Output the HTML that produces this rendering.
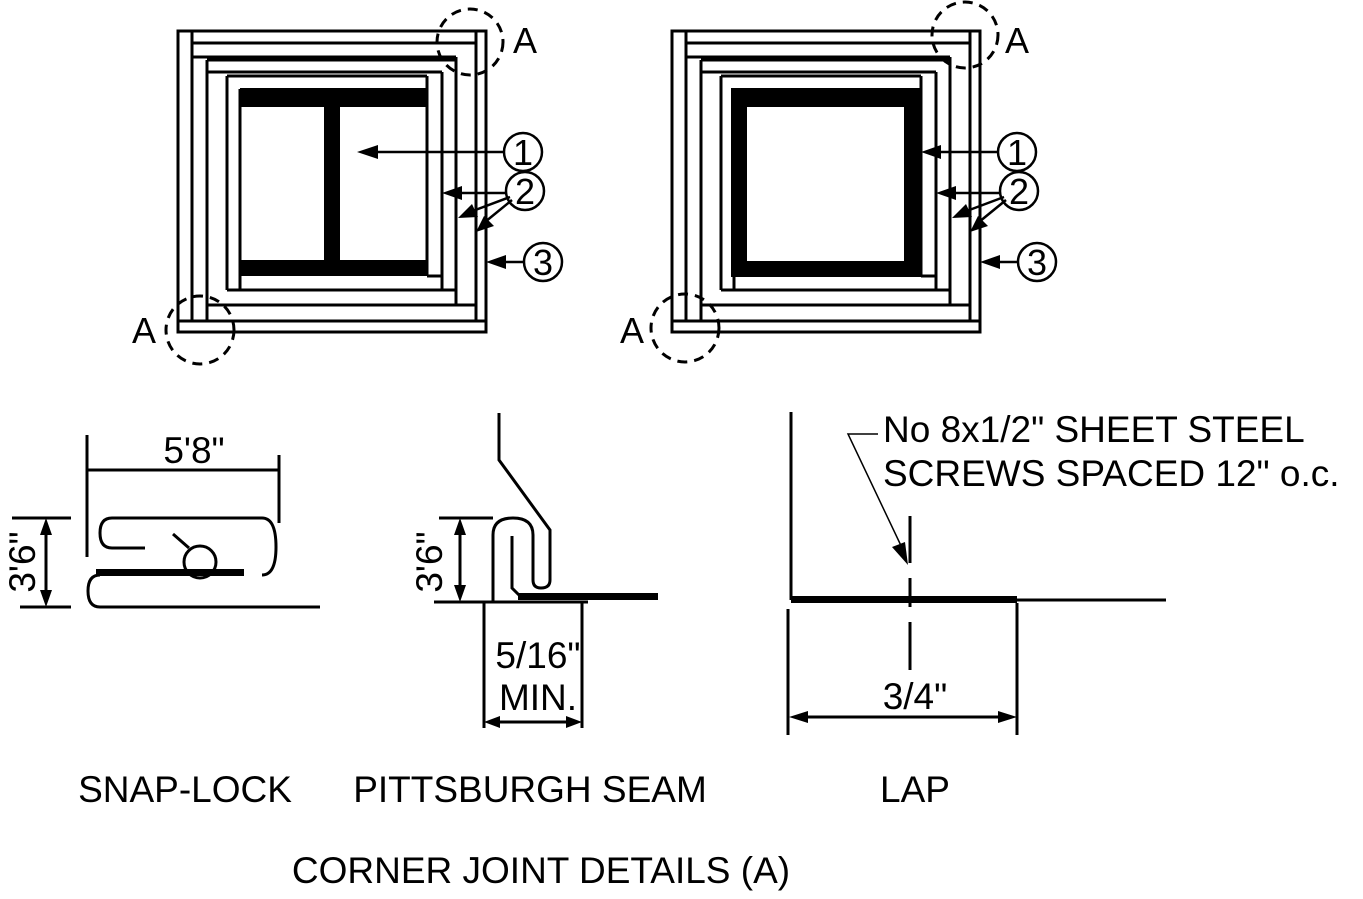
<!DOCTYPE html>
<html><head><meta charset="utf-8"><style>
html,body{margin:0;padding:0;background:#fff}
svg{display:block}
text{font-family:"Liberation Sans",Arial,sans-serif;fill:#000}
</style></head><body>
<svg width="1363" height="899" viewBox="0 0 1363 899" xmlns="http://www.w3.org/2000/svg">
<defs>
<g id="frame" fill="none" stroke="#000" stroke-width="3">
<rect x="178" y="31" width="308" height="301"/>
<path d="M192 31V321M178 321H486M476 31V321M192 43H476M192 57H456M456 57V305M207 305H476M207 60V321M207 60H456M207 72H442M442 72V290M227 290H456M227 76V290M227 76H427M427 76V276M427 276H442M240 89V290"/>
</g>
</defs>

<use href="#frame"/>
<rect x="240" y="88" width="187" height="19" fill="#000"/>
<rect x="240" y="260" width="187" height="16" fill="#000"/>
<rect x="324" y="107" width="16" height="153" fill="#000"/>
<g stroke="#000" stroke-width="2.5" fill="none">
<circle cx="523" cy="152" r="19"/>
<circle cx="525" cy="191" r="19"/>
<circle cx="543" cy="262" r="19"/>
<path d="M504 152H375M506 193H460M510 197L470 212M512 200L485 222M524 262H500"/>
</g>
<g fill="#000">
<path d="M357 152L378 145V159Z"/>
<path d="M442 193L462 186V200Z"/>
<path d="M458 218L472 204L478 217Z"/>
<path d="M476 232L484 216L494 226Z"/>
<path d="M486 262L506 255V269Z"/>
</g>
<g font-size="36" text-anchor="middle">
<text x="523" y="165">1</text>
<text x="525" y="204">2</text>
<text x="543" y="275">3</text>
</g>
<g stroke="#000" stroke-width="3" fill="none" stroke-dasharray="10 7">
<circle cx="470" cy="42" r="33"/>
<circle cx="200" cy="330" r="34"/>
</g>
<text x="513" y="53" font-size="36">A</text>
<text x="132" y="343" font-size="36">A</text>

<use href="#frame" transform="translate(494 0)"/>
<path fill="#000" fill-rule="evenodd" d="M731 88H921V277H731ZM747 107V261H904V107Z"/>
<g stroke="#000" stroke-width="2.5" fill="none">
<circle cx="1017" cy="152" r="19"/>
<circle cx="1019" cy="191" r="19"/>
<circle cx="1037" cy="262" r="19"/>
<path d="M998 152H938M1000 193H954M1004 197L964 212M1006 200L979 222M1018 262H994"/>
</g>
<g fill="#000">
<path d="M921 152L941 145V159Z"/>
<path d="M936 193L956 186V200Z"/>
<path d="M952 218L966 204L972 217Z"/>
<path d="M970 232L978 216L988 226Z"/>
<path d="M980 262L1000 255V269Z"/>
</g>
<g font-size="36" text-anchor="middle">
<text x="1017" y="165">1</text>
<text x="1019" y="204">2</text>
<text x="1037" y="275">3</text>
</g>
<g stroke="#000" stroke-width="3" fill="none" stroke-dasharray="10 7">
<circle cx="965" cy="35" r="33"/>
<circle cx="685" cy="328" r="34"/>
</g>
<text x="1005" y="53" font-size="36">A</text>
<text x="620" y="343" font-size="36">A</text>

<g stroke="#000" stroke-width="3" fill="none">
<path d="M87 435V557M279 455V523M87 470H279"/>
<path d="M12 518H71M20 607H71M46 530V595"/>
<path d="M145 548H112Q100 548 100 533Q100 518 112 518H262Q276 518 276 547Q276 575 262 575"/>
<path d="M100 575Q88 575 88 591Q88 607 100 607H320"/>
<circle cx="200" cy="562" r="16"/>
<path d="M173 534L189 548"/>
</g>
<rect x="96" y="569" width="148" height="7" fill="#000"/>
<path d="M46 518L40 535H52Z M46 607L40 590H52Z" fill="#000"/>
<text x="194" y="463" text-anchor="middle" font-size="37">5'8"</text>
<text transform="translate(35 562) rotate(-90)" text-anchor="middle" font-size="37">3'6"</text>

<g stroke="#000" stroke-width="3" fill="none">
<path d="M499 413V460L550 530V580Q550 588 541 588Q533 588 533 580V535Q533 518 513 518Q493 518 493 535V602"/>
<path d="M512 536V588L520 596"/>
<path d="M434 602H588M439 518H493M460 530V590"/>
<path d="M484 602V728M582 602V728M496 722H570"/>
</g>
<rect x="518" y="593" width="140" height="7" fill="#000"/>
<path d="M460 518L454 535H466Z M460 602L454 585H466Z M484 722L500 716V728Z M582 722L566 716V728Z" fill="#000"/>
<text transform="translate(442 562) rotate(-90)" text-anchor="middle" font-size="37">3'6"</text>
<text x="538" y="668" text-anchor="middle" font-size="37">5/16"</text>
<text x="538" y="710" text-anchor="middle" font-size="37">MIN.</text>

<g stroke="#000" stroke-width="3" fill="none">
<path d="M791 412V600M1017 600H1166M788 609V735M1017 603V735M804 717H1003"/>
<path d="M910 516V563M910 578V607M910 622V670"/>
</g>
<path d="M878 434H848L904 552" stroke="#000" stroke-width="1.5" fill="none"/>
<path d="M908 565L892 547L905 542Z" fill="#000"/>
<rect x="791" y="596" width="226" height="7" fill="#000"/>
<path d="M789 717L808 711V723Z M1017 717L998 711V723Z" fill="#000"/>
<text x="883" y="442" font-size="37">No 8x1/2" SHEET STEEL</text>
<text x="883" y="486" font-size="37">SCREWS SPACED 12" o.c.</text>
<text x="915" y="709" text-anchor="middle" font-size="37">3/4"</text>

<text x="185" y="802" text-anchor="middle" font-size="37">SNAP-LOCK</text>
<text x="530" y="802" text-anchor="middle" font-size="37">PITTSBURGH SEAM</text>
<text x="915" y="802" text-anchor="middle" font-size="37">LAP</text>
<text x="541" y="883" text-anchor="middle" font-size="37">CORNER JOINT DETAILS (A)</text>
</svg>
</body></html>
